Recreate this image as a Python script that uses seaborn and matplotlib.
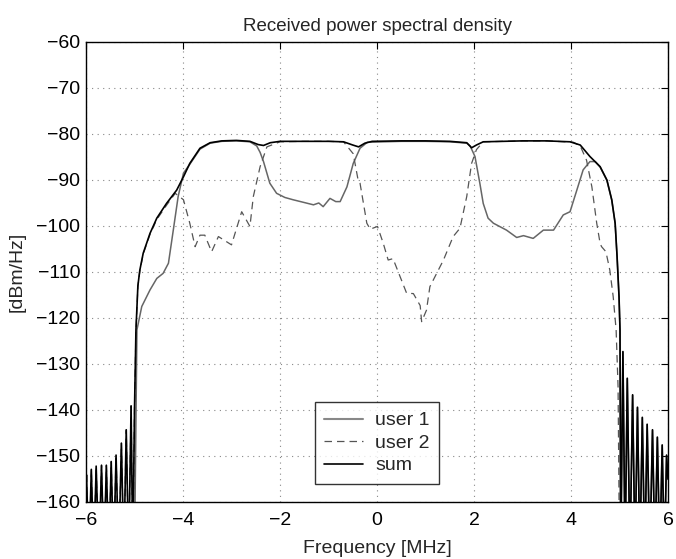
import matplotlib
matplotlib.use("Agg")
import matplotlib.pyplot as plt
import numpy as np
import pandas as pd
import seaborn as sns

# values (frequency in MHz, PSD in dBm/Hz)
# points below -160 are the sidelobe nulls, they fall off the axis
sum_f = [-6.00, -5.99, -5.94, -5.89, -5.84, -5.79, -5.735, -5.68, -5.63, -5.58,
         -5.53, -5.48, -5.43, -5.38, -5.325, -5.27, -5.22, -5.17, -5.12, -5.07,
         -5.035, -5.00, -4.97, -4.93, -4.89, -4.82, -4.68, -4.54, -4.34, -4.13,
         -3.99, -3.86, -3.65, -3.44, -3.20, -2.90, -2.62, -2.45, -2.34, -2.20,
         -2.00, -1.50, -1.00, -0.69, -0.50, -0.38, -0.25, -0.10, 0.50, 1.00,
         1.50, 1.85, 1.95, 2.05, 2.19, 2.60, 3.00, 3.50, 3.98, 4.19,
         4.39, 4.60, 4.74, 4.84, 4.91, 4.95, 4.99, 5.01, 5.025, 5.07,
         5.115, 5.16, 5.215, 5.27, 5.32, 5.37, 5.42, 5.47, 5.52, 5.57,
         5.625, 5.68, 5.73, 5.78, 5.83, 5.88, 5.925, 5.97, 6.00]
sum_db = [-157.0, -154.1, -172, -152.9, -172, -152.2, -172, -152.0, -172, -152.0,
          -172, -151.2, -172, -149.8, -172, -147.2, -172, -144.3, -172, -139.1,
          -172, -140.0, -122.6, -113.0, -109.6, -105.9, -101.6, -98.3, -95.1, -92.2,
          -89.3, -86.4, -83.1, -81.9, -81.5, -81.4, -81.6, -82.3, -82.5, -81.9,
          -81.6, -81.6, -81.6, -81.7, -82.4, -82.8, -82.0, -81.6, -81.5, -81.5,
          -81.6, -81.9, -83.0, -82.4, -81.7, -81.6, -81.5, -81.5, -81.7, -82.4,
          -84.9, -87.1, -90.0, -94.3, -99.4, -106.7, -115.4, -122.6, -172, -127.3,
          -172, -133.1, -172, -136.7, -172, -139.4, -172, -141.6, -172, -143.1,
          -172, -144.3, -172, -145.9, -172, -147.6, -172, -149.8, -155.0]

user1_f = [-5.00, -4.95, -4.85, -4.68, -4.54, -4.41, -4.30, -4.20, -4.10, -3.99,
           -3.86, -3.65, -3.44, -3.20, -2.90, -2.62, -2.48, -2.41, -2.34, -2.21,
           -2.07, -1.90, -1.73, -1.50, -1.31, -1.20, -1.11, -0.97, -0.85, -0.76,
           -0.62, -0.49, -0.35, -0.20, 0.50, 1.00, 1.50, 1.85, 1.92, 2.02,
           2.12, 2.19, 2.29, 2.40, 2.67, 2.88, 3.02, 3.22, 3.43, 3.64,
           3.84, 3.98, 4.12, 4.25, 4.39, 4.50, 4.60, 4.74, 4.84, 4.91,
           4.95, 4.99, 5.01, 5.025, 5.07, 5.115, 5.16, 5.215, 5.27, 5.32,
           5.37, 5.42, 5.47, 5.52, 5.57, 5.625, 5.68, 5.73, 5.78, 5.83,
           5.88, 5.925, 5.97, 6.00]
user1_db = [-172, -122.6, -117.5, -113.9, -111.4, -110.3, -108.1, -100.9, -93.6, -88.5,
            -86.6, -83.3, -82.0, -81.6, -81.5, -81.7, -82.6, -84.0, -86.0, -90.7,
            -92.9, -93.8, -94.3, -94.9, -95.4, -95.0, -95.8, -94.0, -94.7, -94.7,
            -91.5, -86.4, -83.1, -81.8, -81.6, -81.6, -81.7, -82.0, -82.6, -84.9,
            -90.7, -95.1, -98.3, -99.4, -100.9, -102.5, -102.1, -102.7, -100.9, -100.9,
            -97.6, -96.9, -92.2, -87.8, -86.0, -86.0, -87.2, -90.1, -94.4, -99.5,
            -106.8, -115.5, -122.7, -172, -127.4, -172, -133.2, -172, -136.8, -172,
            -139.5, -172, -141.7, -172, -143.2, -172, -144.4, -172, -146.0, -172,
            -147.7, -172, -149.9, -155.1]

user2_f = [-6.00, -5.99, -5.94, -5.89, -5.84, -5.79, -5.735, -5.68, -5.63, -5.58,
           -5.53, -5.48, -5.43, -5.38, -5.325, -5.27, -5.22, -5.17, -5.12, -5.07,
           -5.035, -5.00, -4.97, -4.93, -4.89, -4.82, -4.68, -4.54, -4.34, -4.16,
           -3.99, -3.86, -3.75, -3.65, -3.55, -3.41, -3.27, -3.00, -2.79, -2.62,
           -2.55, -2.41, -2.27, -2.00, -1.50, -1.00, -0.69, -0.49, -0.39, -0.35,
           -0.21, -0.14, 0.01, 0.13, 0.23, 0.33, 0.61, 0.75, 0.89, 0.92,
           1.02, 1.09, 1.37, 1.57, 1.71, 1.85, 1.95, 2.05, 2.19, 2.60,
           3.00, 3.50, 4.05, 4.19, 4.32, 4.43, 4.53, 4.60, 4.63, 4.72,
           4.80, 4.87, 4.93, 4.97, 5.00]
user2_db = [-157.1, -154.2, -172, -153.0, -172, -152.3, -172, -152.1, -172, -152.1,
            -172, -151.3, -172, -149.9, -172, -147.3, -172, -144.4, -172, -139.2,
            -172, -140.1, -122.7, -113.2, -109.8, -106.1, -101.8, -98.6, -95.5, -92.9,
            -94.3, -99.4, -104.5, -102.0, -102.0, -105.6, -102.3, -104.1, -96.9, -100.1,
            -93.6, -87.1, -82.8, -81.7, -81.6, -81.6, -81.7, -84.3, -90.0, -90.7,
            -99.4, -100.7, -100.1, -103.8, -107.4, -107.1, -114.6, -114.7, -117.3, -120.8,
            -118.3, -113.2, -107.4, -102.3, -100.5, -93.6, -86.4, -83.4, -81.7, -81.6,
            -81.5, -81.5, -81.8, -82.6, -85.7, -91.5, -99.4, -103.8, -104.5, -105.6,
            -109.6, -115.4, -122.6, -135.0, -172]

x_ticks = [-6, -4, -2, 0, 2, 4, 6]
y_ticks = [-160, -150, -140, -130, -120, -110, -100, -90, -80, -70, -60]

sns.set_style("white")
plt.rcParams['font.family'] = ['Liberation Sans', 'DejaVu Sans']

fig = plt.figure(figsize=(6.76, 5.59), dpi=100)
ax = fig.add_axes([0.1272, 0.1020, 0.8610, 0.8229])

sns.lineplot(x=user1_f, y=user1_db, ax=ax, color='#666666', linewidth=1.1,
             sort=False, estimator=None, label='user 1')
sns.lineplot(x=user2_f, y=user2_db, ax=ax, color='#555555', linewidth=0.9,
             linestyle=(0, (6, 4)), sort=False, estimator=None, label='user 2')
sns.lineplot(x=sum_f, y=sum_db, ax=ax, color='black', linewidth=1.2,
             sort=False, estimator=None, label='sum')

ax.set_xlim(-6, 6)
ax.set_ylim(-160, -60)
ax.set_xticks(x_ticks)
ax.set_yticks(y_ticks)
ax.grid(True, linestyle=(0, (1, 4)), color='#888888', linewidth=0.8)
ax.tick_params(direction='in', length=5, width=0.8, top=True, right=True,
               labelsize=14, colors='black')
ax.tick_params(axis='x', pad=7)
ax.tick_params(axis='y', pad=4)
for sp in ax.spines.values():
    sp.set_color('black')
    sp.set_linewidth(1.0)

ax.set_title('Received power spectral density', fontsize=13.5, pad=8)
ax.set_xlabel('Frequency [MHz]', fontsize=14, labelpad=8)
ax.set_ylabel('[dBm/Hz]', fontsize=14, labelpad=8)

leg = ax.legend(loc='lower center', bbox_to_anchor=(0.5, 0.039), fontsize=14,
                frameon=True, fancybox=False, handlelength=2.0, borderpad=0.5,
                labelspacing=0.25, handletextpad=0.6, borderaxespad=0)
leg.get_frame().set_edgecolor('black')
leg.get_frame().set_linewidth(1.0)
leg.get_lines()[0].set_color('#888888')
leg.get_lines()[0].set_linewidth(1.5)
leg._legend_box.sep = 4

fig.savefig('out.png', dpi=100)
